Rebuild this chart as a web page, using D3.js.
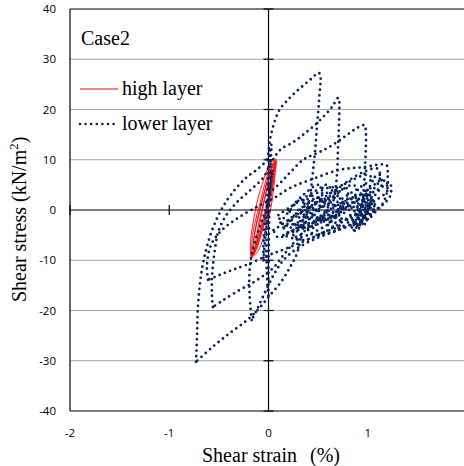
<!DOCTYPE html>
<html><head><meta charset="utf-8">
<script src="https://cdn.jsdelivr.net/npm/d3@7"></script>
<style>body{margin:0;background:#fff}svg{display:block}</style>
</head><body>
<svg id="c" width="464" height="466"></svg>
<script>
// ---------- data ----------
const xTicks = [-2, -1, 0, 1, 2];
const yTicks = [-40, -30, -20, -10, 0, 10, 20, 30, 40];
const xTickLabels = ["-2", "-1", "0", "1", "2"];
const yTickLabels = ["-40", "-30", "-20", "-10", "0", "10", "20", "30", "40"];
const seriesNames = ["high layer", "lower layer"];

// lower layer: large hysteresis loops (strain %, stress kN/m2)
const loopA = [[-0.73,-30.2],[-0.72,-25],[-0.71,-19],[-0.68,-13],[-0.63,-8],[-0.56,-3.6],[-0.46,0.6],[-0.34,4],[-0.22,6.5],[-0.1,8.3],[-0.02,10],[0.02,14.5],[0.06,17.5],[0.11,19.9],[0.18,21.6],[0.26,23.2],[0.34,24.6],[0.43,26.1],[0.5,27.3],[0.52,27],[0.51,22],[0.49,17],[0.47,12],[0.45,8],[0.42,3],[0.38,-1],[0.33,-5],[0.29,-8.5],[0.22,-11.3],[0.12,-14.5],[0.0,-17.3],[-0.09,-19.5],[-0.22,-22],[-0.39,-24.5],[-0.56,-27.2],[-0.73,-30.2]];
const loopB = [[-0.56,-19.3],[-0.57,-17],[-0.57,-14],[-0.56,-11],[-0.53,-6.6],[-0.51,-4.6],[-0.44,-1.5],[-0.32,1.5],[-0.18,4],[-0.05,6.5],[0.03,9.5],[0.12,12],[0.25,13.5],[0.35,15],[0.45,16.6],[0.55,18.5],[0.64,20.5],[0.7,22.3],[0.71,22],[0.71,17],[0.7,12],[0.69,7],[0.66,3],[0.58,0],[0.45,-2.5],[0.3,-5.5],[0.15,-9],[0.05,-11.5],[-0.04,-12.9],[-0.16,-14.5],[-0.29,-15.9],[-0.46,-18],[-0.56,-19.3]];
const loopC = [[-0.17,-21.9],[-0.19,-17],[-0.19,-12],[-0.16,-8],[-0.1,-4],[-0.03,0],[0.02,3.4],[0.12,5.4],[0.22,7.5],[0.35,10],[0.49,11.3],[0.59,12.3],[0.69,13.5],[0.79,14.9],[0.89,16.3],[0.97,16.9],[0.98,16],[0.98,12],[0.97,8],[0.96,4],[0.94,1],[0.88,-2],[0.7,-4],[0.5,-5.5],[0.3,-7.5],[0.15,-10],[0.05,-13],[-0.05,-17],[-0.12,-20],[-0.17,-21.9]];
const loopD = [[-0.61,-13.9],[-0.62,-11],[-0.58,-7],[-0.47,-4],[-0.3,-1.5],[-0.1,0.8],[0.05,2.3],[0.22,4.4],[0.45,6.2],[0.72,8],[0.95,8.5],[1.19,8.9],[1.2,7],[1.2,4.5],[1.17,2],[1.1,0],[0.95,-2],[0.7,-4],[0.45,-5.5],[0.2,-7.5],[0.0,-9],[-0.22,-10.9],[-0.36,-11.9],[-0.49,-12.9],[-0.61,-13.9]];
const loopE = [[0.6,-1],[0.9,2],[1.1,4],[1.22,5.4],[1.23,3],[1.15,1],[1.02,-0.5],[0.85,-2],[0.6,-1]];
// lower layer: small loops near the origin
const originLoop1 = [[0.0,-17],[0.0,-12],[0.005,-5],[0.01,2],[0.02,9],[0.03,13],[0.01,11],[-0.01,4],[-0.02,-4],[-0.02,-10],[-0.01,-15],[0.0,-17]];
const originLoop2 = [[-0.05,-10],[-0.03,-5],[0.0,0],[0.02,5],[0.04,8],[0.02,5],[-0.02,0],[-0.05,-6],[-0.05,-10]];
// lower layer: ratcheting cluster
const clusterLoop1 = [[0.15,-3.5],[0.3,-1],[0.5,1.5],[0.7,3.5],[0.85,5],[0.9,4],[0.8,1.5],[0.6,-1],[0.4,-3],[0.2,-4.5],[0.15,-3.5]];
const clusterLoop2 = [[0.2,-2],[0.4,0.5],[0.6,3],[0.8,5.5],[1.0,7],[1.05,6],[0.95,3],[0.8,0.5],[0.6,-1.8],[0.35,-3.5],[0.2,-2]];
const clusterLoop3 = [[0.25,-5],[0.4,-2],[0.55,1],[0.7,2.5],[0.75,1],[0.65,-2],[0.5,-4],[0.3,-5.5],[0.25,-5]];
const clusterLoop4 = [[0.3,0],[0.5,2.5],[0.7,4.5],[0.95,7.5],[1.1,8.2],[1.12,6],[1.0,3],[0.85,0.5],[0.65,-1.5],[0.45,-1.5],[0.3,0]];
const clusterLoop5 = [[0.1,-1],[0.25,1],[0.45,3.5],[0.6,5],[0.62,3],[0.5,0.5],[0.35,-2],[0.15,-3],[0.1,-1]];
const clusterLoop6 = [[0.4,-4],[0.55,-1],[0.7,1],[0.85,2.5],[0.9,1],[0.8,-1.5],[0.65,-3.5],[0.45,-5],[0.4,-4]];
const clusterLoop7 = [[0.2,0],[0.35,3],[0.5,5],[0.55,4],[0.45,1],[0.3,-1.5],[0.2,0]];
const clusterLoop8 = [[0.5,-2],[0.65,0.5],[0.8,2],[1.0,4],[1.15,6],[1.2,4],[1.05,1.5],[0.9,-0.5],[0.7,-2.5],[0.5,-2]];
const clusterLoop9 = [[0.05,-4],[0.2,-2],[0.35,0.5],[0.5,2.5],[0.55,1],[0.4,-2],[0.25,-4],[0.1,-5.5],[0.05,-4]];
const clusterLoop10 = [[0.12,-2.5],[0.22,0],[0.32,2],[0.42,1],[0.35,-1.5],[0.22,-3.5],[0.12,-2.5]];
const clusterLoop11 = [[0.45,-1],[0.55,1.5],[0.68,3],[0.78,4.5],[0.8,2.5],[0.7,0],[0.58,-2],[0.45,-1]];
const clusterLoop12 = [[0.6,-3],[0.7,-0.5],[0.82,1],[0.92,3],[0.95,1],[0.85,-1.5],[0.72,-3.5],[0.6,-3]];
const clusterLoop13 = [[0.3,-3],[0.42,-0.5],[0.52,2],[0.6,1.5],[0.55,-1.5],[0.42,-3.8],[0.3,-3]];
const clusterLoop14 = [[0.15,-5],[0.3,-3.5],[0.5,-2],[0.7,-1.5],[0.72,-3],[0.55,-4.5],[0.35,-6],[0.15,-5]];
const clusterLoop15 = [[0.65,1],[0.8,3],[1.0,5.5],[1.12,7],[1.14,5],[1.05,2.5],[0.9,0.5],[0.65,1]];
const clusterLoop16 = [[0.35,1.5],[0.5,3.5],[0.65,4.5],[0.7,3],[0.58,1],[0.45,0],[0.35,1.5]];
// lower layer: dense blob near strain 0.95
const blobLoop1 = [[0.86,-3],[0.9,-1],[0.95,1.5],[1.0,3.5],[1.03,2],[0.99,-0.5],[0.93,-2.5],[0.86,-3]];
const blobLoop2 = [[0.85,-2],[0.92,0.5],[0.98,2.5],[1.02,1],[0.96,-1.5],[0.88,-3.5],[0.85,-2]];
const blobLoop3 = [[0.88,-1],[0.94,1],[1.0,3],[1.04,2.5],[1.0,0],[0.93,-2],[0.88,-1]];
const blobLoop4 = [[0.84,-3.5],[0.9,-2],[0.97,0],[1.03,1.5],[1.05,0],[0.98,-1.5],[0.9,-3],[0.84,-3.5]];
const blobLoop5 = [[0.9,0],[0.95,2],[1.0,4],[1.02,3],[0.97,0.5],[0.91,-1.5],[0.9,0]];
const blobLoop6 = [[0.86,-4],[0.92,-2.5],[0.99,-0.5],[1.06,1],[1.05,-1],[0.96,-2.5],[0.88,-4.2],[0.86,-4]];
const blobLoop7 = [[0.88,-2.5],[0.93,-0.5],[0.97,1.5],[1.0,1],[0.96,-1],[0.9,-3],[0.88,-2.5]];
const blobLoop8 = [[0.92,-3],[0.97,-1],[1.02,1],[1.06,2],[1.07,0.5],[1.01,-1.5],[0.95,-3.2],[0.92,-3]];

// high layer loops
const highLoop1 = [[-0.18,-9.7],[-0.18,-6],[-0.15,-2],[-0.11,2],[-0.05,6],[0.02,9.3],[0.08,10.1],[0.07,8],[0.05,4],[0.02,0],[-0.03,-4],[-0.1,-8],[-0.18,-9.7]];
const highLoop2 = [[-0.16,-9.2],[-0.15,-6],[-0.11,-2],[-0.06,2],[-0.01,6],[0.04,9],[0.07,9.8],[0.06,7],[0.03,3],[-0.01,-0.5],[-0.06,-4],[-0.12,-7.8],[-0.16,-9.2]];
const highLoop3 = [[-0.14,-8.5],[-0.12,-5],[-0.08,-1],[-0.03,3],[0.02,7],[0.06,9.5],[0.05,6.5],[0.02,2.5],[-0.03,-1.5],[-0.09,-5.5],[-0.14,-8.5]];
const highLoop4 = [[-0.15,-9],[-0.15,-6.5],[-0.13,-3.5],[-0.09,0],[-0.05,3],[0.0,6.5],[0.05,9],[0.04,6],[0.0,2],[-0.05,-2],[-0.1,-5.8],[-0.15,-9]];
const highLoop5 = [[-0.12,-7],[-0.1,-4],[-0.06,0],[-0.02,4],[0.03,8],[0.02,5],[-0.01,1],[-0.05,-2.5],[-0.12,-7]];
const highLoop6 = [[-0.17,-9.5],[-0.17,-8],[-0.16,-5],[-0.13,-2],[-0.09,1],[-0.04,5],[0.02,8.5],[0.07,9.9],[0.05,7.5],[0.02,4],[-0.03,0],[-0.08,-3.5],[-0.13,-7],[-0.17,-9.5]];

const lowerLoops = [loopA, loopB, loopC, loopD, loopE, originLoop1, originLoop2,
  clusterLoop1, clusterLoop2, clusterLoop3, clusterLoop4, clusterLoop5, clusterLoop6, clusterLoop7, clusterLoop8,
  clusterLoop9, clusterLoop10, clusterLoop11, clusterLoop12, clusterLoop13, clusterLoop14, clusterLoop15, clusterLoop16,
  blobLoop1, blobLoop2, blobLoop3, blobLoop4, blobLoop5, blobLoop6, blobLoop7, blobLoop8];
const highLoops = [highLoop1, highLoop2, highLoop3, highLoop4, highLoop5, highLoop6];

// ---------- drawing ----------
const svg = d3.select("#c");
const x = d3.scaleLinear().domain([-2, 2]).range([70, 467]);
const y = d3.scaleLinear().domain([-40, 40]).range([411, 9]);
const NAVY = "#082563";
const SERIF = "'Liberation Serif','Times New Roman',serif";
const SANS = "'Open Sans','Liberation Sans',sans-serif";

// grid
svg.append("g").selectAll("line").data(yTicks.filter(d => d !== 0 && d !== 40 && d !== -40)).join("line")
  .attr("x1", x(-2)).attr("x2", 464).attr("y1", d => y(d)).attr("y2", d => y(d))
  .attr("stroke", "#a6a6a6").attr("stroke-width", 1.2);

// frame
const frame = svg.append("g").attr("stroke", "#000").attr("stroke-width", 1.2);
frame.append("line").attr("x1", x(-2)).attr("x2", x(-2)).attr("y1", y(40)).attr("y2", y(-40));
frame.append("line").attr("x1", x(-2)).attr("x2", 464).attr("y1", y(40)).attr("y2", y(40));
frame.append("line").attr("x1", x(-2)).attr("x2", 464).attr("y1", y(-40)).attr("y2", y(-40));
// zero axes
frame.append("line").attr("x1", x(-2)).attr("x2", 464).attr("y1", y(0)).attr("y2", y(0));
frame.append("line").attr("x1", x(0)).attr("x2", x(0)).attr("y1", y(40)).attr("y2", y(-40));
// tick marks on zero axes
frame.append("g").selectAll("line").data(yTicks.filter(d => d !== 0)).join("line")
  .attr("x1", x(0) - 5).attr("x2", x(0) + 5).attr("y1", d => y(d)).attr("y2", d => y(d));
frame.append("g").selectAll("line").data(xTicks.filter(d => d !== 0)).join("line")
  .attr("x1", d => x(d)).attr("x2", d => x(d)).attr("y1", y(0) - 5).attr("y2", y(0) + 5);

// tick labels
svg.append("g").selectAll("text").data(yTicks).join("text")
  .attr("x", 56).attr("y", d => y(d)).attr("dy", "0.35em").attr("text-anchor", "end")
  .attr("font-family", SANS).attr("font-size", 11.5).attr("fill", "#000")
  .text((d, i) => yTickLabels[i]);
svg.append("g").selectAll("text").data(xTicks).join("text")
  .attr("x", d => x(d)).attr("y", 433).attr("dy", "0.35em").attr("text-anchor", "middle")
  .attr("font-family", SANS).attr("font-size", 11.5).attr("fill", "#000")
  .text((d, i) => xTickLabels[i]);

// series
const line = d3.line().x(d => x(d[0])).y(d => y(d[1])).curve(d3.curveCatmullRom.alpha(0.5));
svg.append("g").selectAll("path").data(highLoops).join("path")
  .attr("d", line).attr("fill", "none").attr("stroke", "#ff0000").attr("stroke-width", 0.9);
svg.append("g").selectAll("path").data(lowerLoops).join("path")
  .attr("d", line).attr("fill", "none").attr("stroke", NAVY).attr("stroke-width", 2.8)
  .attr("stroke-linecap", "round").attr("stroke-dasharray", "0 5.6");

// titles
svg.append("text").attr("x", 202).attr("y", 462).attr("font-family", SERIF).attr("font-size", 20)
  .attr("fill", "#000").text("Shear strain")
  .append("tspan").attr("dx", 13).text("(%)");
svg.append("text").attr("transform", "translate(26,302) rotate(-90)")
  .attr("font-family", SERIF).attr("font-size", 20).attr("fill", "#000")
  .text("Shear stress (kN/m")
  .call(t => { t.append("tspan").attr("font-size", 13).attr("dy", -8).text("2");
               t.append("tspan").attr("dy", 8).text(")"); });

// legend
svg.append("text").attr("x", 81).attr("y", 45).attr("font-family", SERIF).attr("font-size", 20)
  .attr("fill", "#000").text("Case2");
svg.append("line").attr("x1", 80).attr("x2", 118).attr("y1", 89).attr("y2", 89)
  .attr("stroke", "#ff0000").attr("stroke-width", 1);
svg.append("text").attr("x", 122).attr("y", 95).attr("font-family", SERIF).attr("font-size", 20)
  .attr("fill", "#000").text(seriesNames[0]);
svg.append("line").attr("x1", 80).attr("x2", 118).attr("y1", 124).attr("y2", 124)
  .attr("stroke", NAVY).attr("stroke-width", 2.6).attr("stroke-linecap", "round").attr("stroke-dasharray", "0 5.6");
svg.append("text").attr("x", 122).attr("y", 130).attr("font-family", SERIF).attr("font-size", 20)
  .attr("fill", "#000").text(seriesNames[1]);
</script>
</body></html>
